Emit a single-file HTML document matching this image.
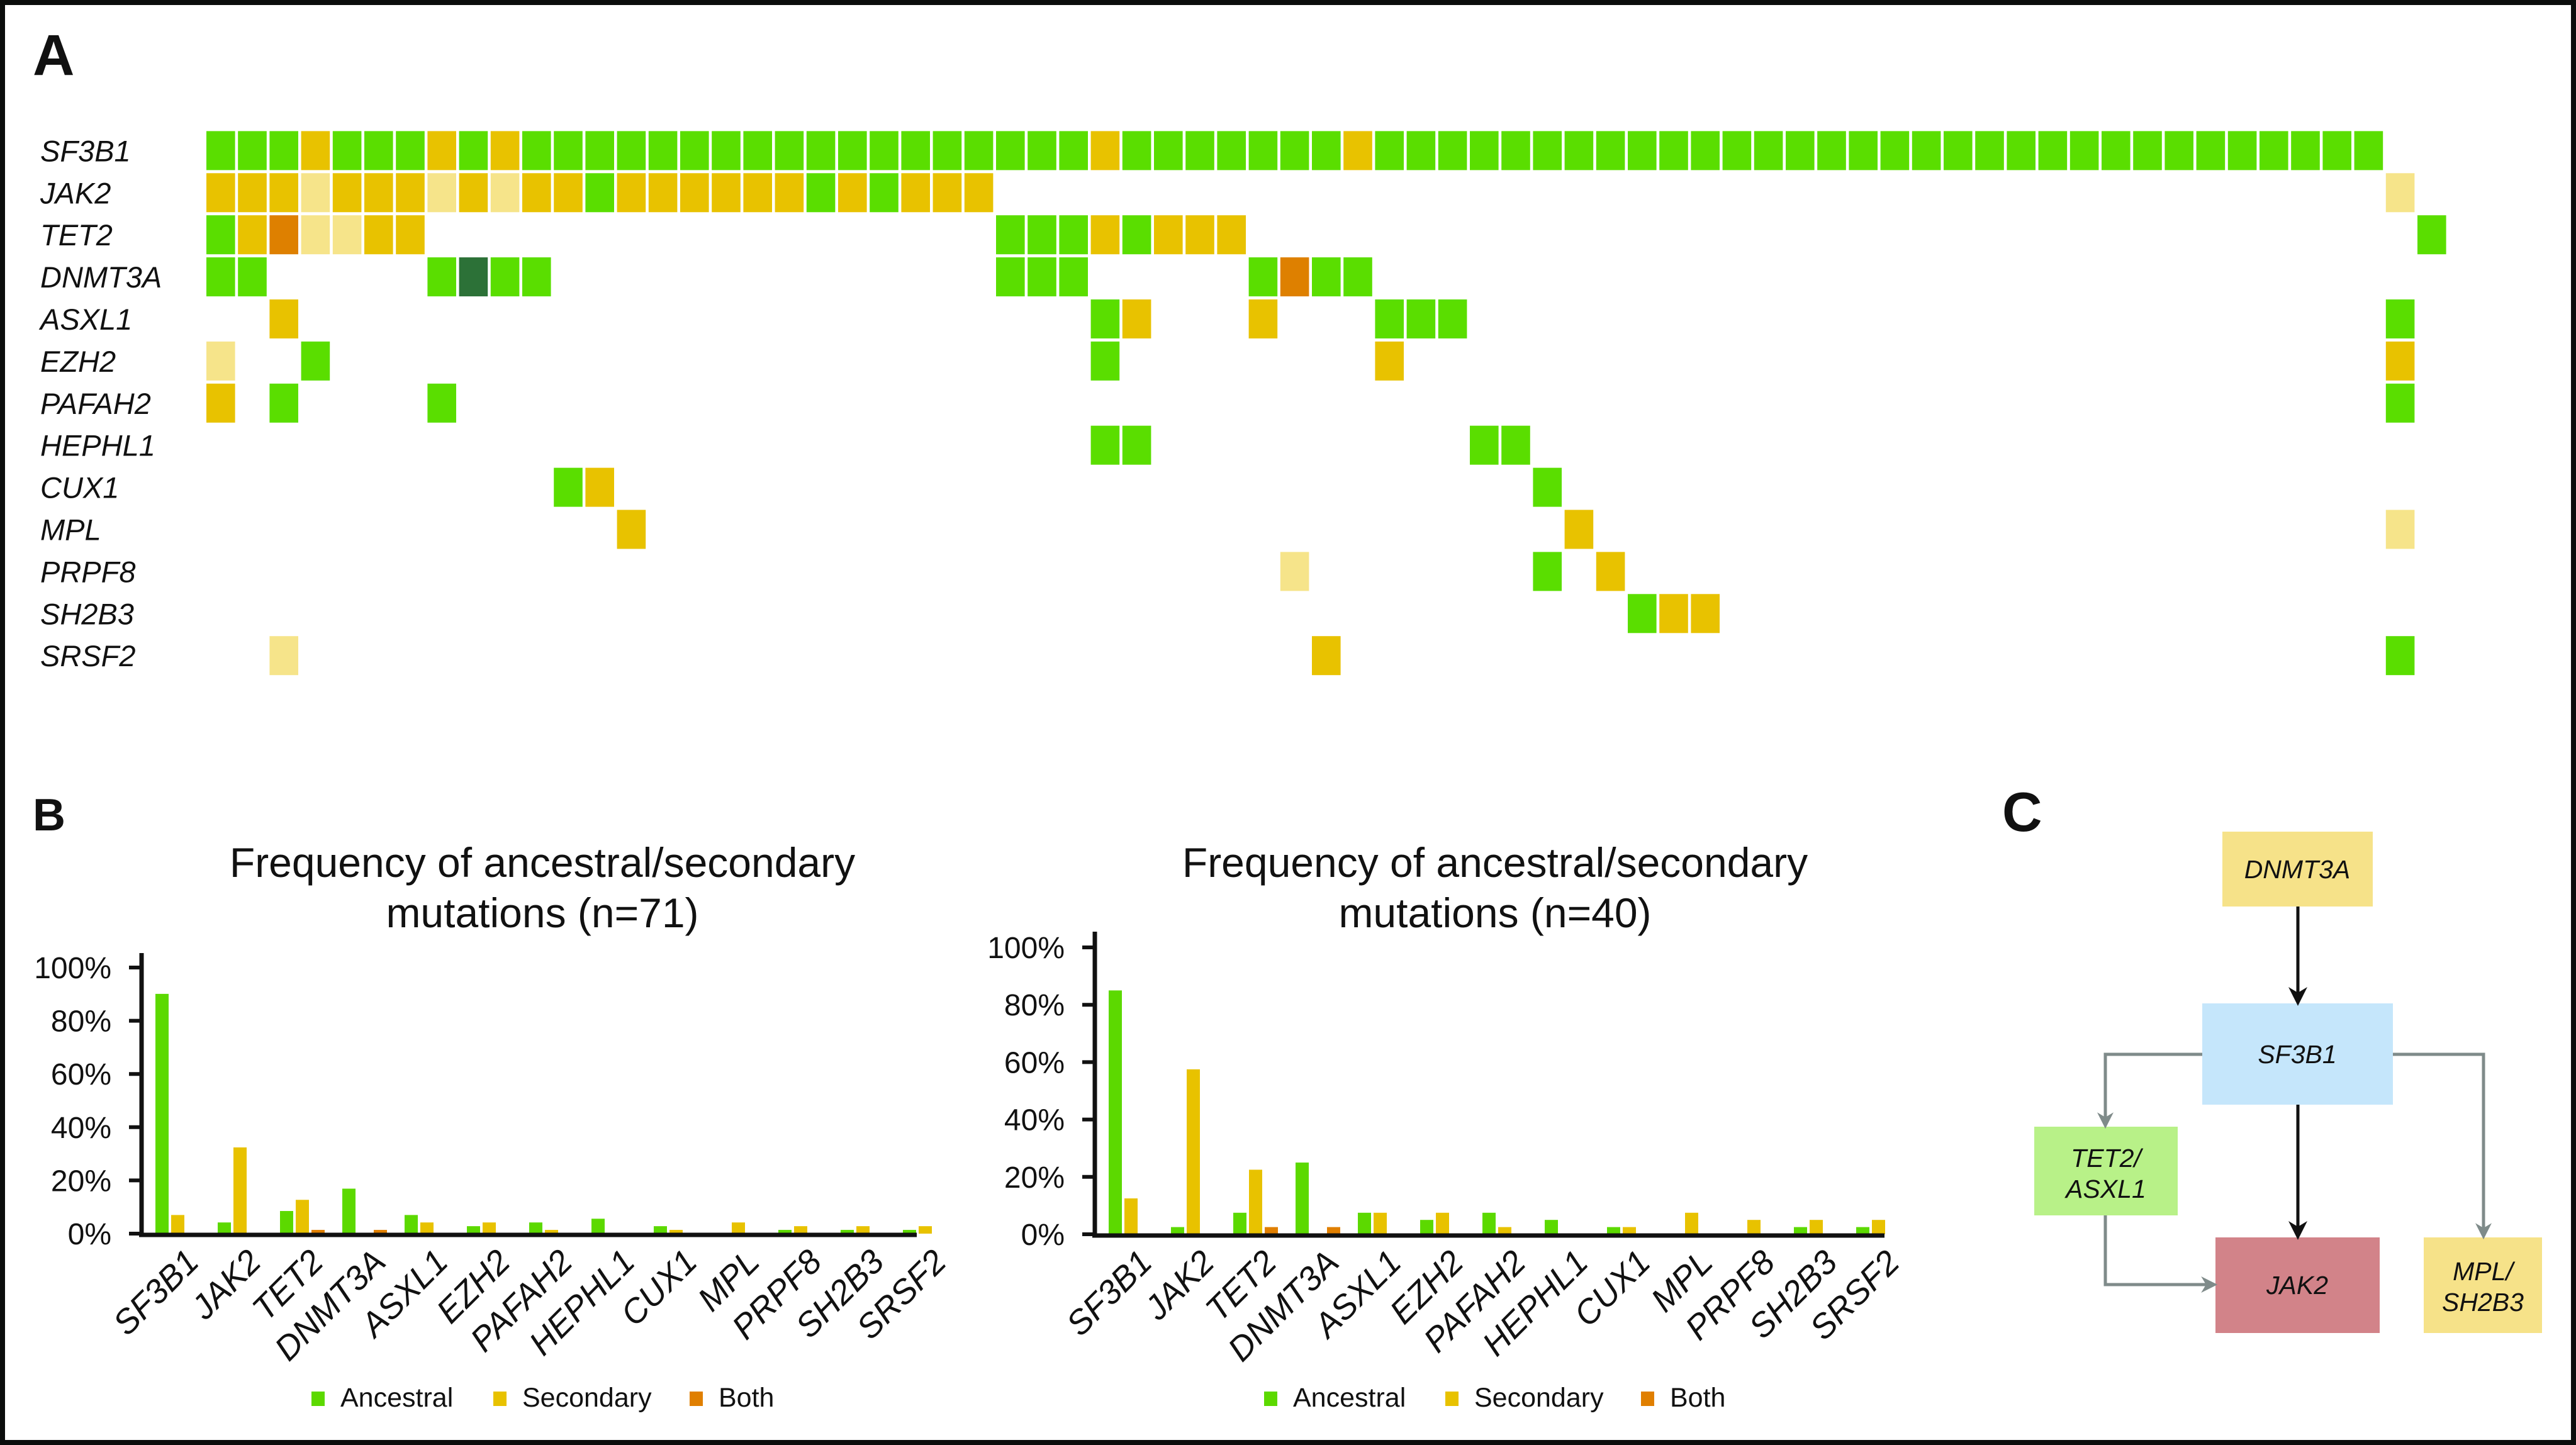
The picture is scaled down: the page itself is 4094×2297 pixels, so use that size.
<!DOCTYPE html>
<html><head><meta charset="utf-8">
<style>
html,body{margin:0;padding:0;background:#fff;}
svg{display:block;font-family:"Liberation Sans",sans-serif;}
</style></head>
<body>
<svg id="fig" width="4094" height="2297" viewBox="0 0 4094 2297" xmlns="http://www.w3.org/2000/svg">
<rect x="4" y="4" width="4086" height="2289" fill="#fff" stroke="#0b0d0c" stroke-width="8"/>
<text x="52" y="119" font-size="92" font-weight="bold" fill="#111">A</text>
<text x="52" y="1320" font-size="72" font-weight="bold" fill="#111">B</text>
<text x="3182" y="1321" font-size="88" font-weight="bold" fill="#111">C</text>
<g id="heat"></g>
<g id="chartL"></g>
<g id="chartR"></g>
<g id="diag">
  <defs>
    <marker id="ag" viewBox="0 0 10 10" refX="8" refY="5" markerWidth="26" markerHeight="26" orient="auto" markerUnits="userSpaceOnUse"><path d="M0,0 L10,5 L0,10 L3,5 z" fill="#7f8b8a"/></marker>
    <marker id="ab2" viewBox="0 0 10 10" refX="8" refY="5" markerWidth="30" markerHeight="30" orient="auto" markerUnits="userSpaceOnUse"><path d="M0,0 L10,5 L0,10 L3,5 z" fill="#111"/></marker>
  </defs>
  <rect x="3532" y="1322" width="239" height="119" fill="#f6e289"/>
  <text x="3651" y="1396" font-size="41" font-style="italic" text-anchor="middle" fill="#111">DNMT3A</text>
  <rect x="3500" y="1595" width="303" height="161" fill="#c5e6fb"/>
  <text x="3651" y="1690" font-size="41" font-style="italic" text-anchor="middle" fill="#111">SF3B1</text>
  <rect x="3233" y="1791" width="228" height="141" fill="#b8f188"/>
  <text x="3347" y="1855" font-size="41" font-style="italic" text-anchor="middle" fill="#111">TET2/</text>
  <text x="3347" y="1904" font-size="41" font-style="italic" text-anchor="middle" fill="#111">ASXL1</text>
  <rect x="3521" y="1967" width="261" height="152" fill="#d28389"/>
  <text x="3651" y="2057" font-size="41" font-style="italic" text-anchor="middle" fill="#111">JAK2</text>
  <rect x="3852" y="1967" width="188" height="152" fill="#f6e289"/>
  <text x="3946" y="2035" font-size="41" font-style="italic" text-anchor="middle" fill="#111">MPL/</text>
  <text x="3946" y="2084" font-size="41" font-style="italic" text-anchor="middle" fill="#111">SH2B3</text>
  <line x1="3652" y1="1441" x2="3652" y2="1593" stroke="#111" stroke-width="5" marker-end="url(#ab2)"/>
  <line x1="3652" y1="1756" x2="3652" y2="1965" stroke="#111" stroke-width="5" marker-end="url(#ab2)"/>
  <polyline points="3500,1676 3346,1676 3346,1789" fill="none" stroke="#7f8b8a" stroke-width="5" marker-end="url(#ag)"/>
  <polyline points="3803,1676 3947,1676 3947,1965" fill="none" stroke="#7f8b8a" stroke-width="5" marker-end="url(#ag)"/>
  <polyline points="3346,1932 3346,2042 3519,2042" fill="none" stroke="#7f8b8a" stroke-width="5" marker-end="url(#ag)"/>
</g>
</svg>
<script>
// ---------- Heatmap data ----------
const heatGenes = ["SF3B1","JAK2","TET2","DNMT3A","ASXL1","EZH2","PAFAH2","HEPHL1","CUX1","MPL","PRPF8","SH2B3","SRSF2"];
const rowSF3B1 = "GGGYGGGYGY"+"GGGGGGGGGG"+"GGGGGGGGYG"+"GGGGGGYGGG"+"GGGGGGGGGG"+"GGGGGGGGGG"+"GGGGGGGGG."+".";
const rowJAK2  = "YYYLYYYLYL"+"YYGYYYYYYG"+"YGYYY....."+".........."+".........."+".........."+".........L"+".";
const rowTET2  = "GYOLLYY..."+".........."+".....GGGYG"+"YYY......."+".........."+".........."+".........."+"G";
const rowDNMT3A= "GG.....GDG"+"G........."+".....GGG.."+"...GOGG..."+".........."+".........."+".........."+".";
const rowASXL1 = [[2,"Y"],[28,"G"],[29,"Y"],[33,"Y"],[37,"G"],[38,"G"],[39,"G"],[69,"G"]];
const rowEZH2  = [[0,"L"],[3,"G"],[28,"G"],[37,"Y"],[69,"Y"]];
const rowPAFAH2= [[0,"Y"],[2,"G"],[7,"G"],[69,"G"]];
const rowHEPHL1= [[28,"G"],[29,"G"],[40,"G"],[41,"G"]];
const rowCUX1  = [[11,"G"],[12,"Y"],[42,"G"]];
const rowMPL   = [[13,"Y"],[43,"Y"],[69,"L"]];
const rowPRPF8 = [[34,"L"],[42,"G"],[44,"Y"]];
const rowSH2B3 = [[45,"G"],[46,"Y"],[47,"Y"]];
const rowSRSF2 = [[2,"L"],[35,"Y"],[69,"G"]];

// ---------- Bar chart data ----------
const barGenes = ["SF3B1","JAK2","TET2","DNMT3A","ASXL1","EZH2","PAFAH2","HEPHL1","CUX1","MPL","PRPF8","SH2B3","SRSF2"];
const ancestral71 = [90.1,4.2,8.5,16.9,7.0,2.8,4.2,5.6,2.8,0,1.4,1.4,1.4];
const secondary71 = [7.0,32.4,12.7,0,4.2,4.2,1.4,0,1.4,4.2,2.8,2.8,2.8];
const both71      = [0,0,1.4,1.4,0,0,0,0,0,0,0,0,0];
const ancestral40 = [85,2.5,7.5,25,7.5,5,7.5,5,2.5,0,0,2.5,2.5];
const secondary40 = [12.5,57.5,22.5,0,7.5,7.5,2.5,0,2.5,7.5,5,5,5];
const both40      = [0,0,2.5,2.5,0,0,0,0,0,0,0,0,0];
const yTicks = [0,20,40,60,80,100];
const yTickLabels = ["0%","20%","40%","60%","80%","100%"];
const legendLabels = ["Ancestral","Secondary","Both"];

const NS = "http://www.w3.org/2000/svg";
const COL = {G:"#5ade00",Y:"#e8c200",L:"#f6e48a",O:"#de8000",D:"#2c7137"};
const BAR = ["#5cd900","#e8c200","#e07f00"];
function mk(tag, attrs, parent){
  const e=document.createElementNS(NS,tag);
  for(const k in attrs) e.setAttribute(k,attrs[k]);
  parent.appendChild(e); return e;
}

// ---------- Heatmap ----------
const heat=document.getElementById("heat");
const hx = c => 328 + c*50.2;
const hy = r => 208.4 + r*66.9;
function rowCells(r){
  const g=heatGenes[r];
  const src={SF3B1:rowSF3B1,JAK2:rowJAK2,TET2:rowTET2,DNMT3A:rowDNMT3A,ASXL1:rowASXL1,EZH2:rowEZH2,PAFAH2:rowPAFAH2,HEPHL1:rowHEPHL1,CUX1:rowCUX1,MPL:rowMPL,PRPF8:rowPRPF8,SH2B3:rowSH2B3,SRSF2:rowSRSF2}[g];
  if(typeof src==="string"){const out=[];for(let i=0;i<src.length;i++) if(src[i]!==".") out.push([i,src[i]]);return out;}
  return src;
}
heatGenes.forEach((g,r)=>{
  const t=mk("text",{x:64,y:hy(r)+48,"font-size":47,"font-style":"italic",fill:"#111"},heat);
  
  
  t.textContent=g;
  rowCells(r).forEach(([c,code])=>{
    const rc=mk("rect",{x:hx(c),y:hy(r),width:45.6,height:62,fill:COL[code]},heat);
    
    
  });
});

// ---------- Bar charts ----------
function drawChart(gid, cfg, A, S, B, title2){
  const g=document.getElementById(gid);
  const y = v => cfg.y0 - v*cfg.k;
  const gx = i => cfg.bx + i*99;
  const t1=mk("text",{x:cfg.tc,y:1394,"font-size":66,"text-anchor":"middle",fill:"#111"},g);
  
  
  t1.textContent="Frequency of ancestral/secondary";
  const t2=mk("text",{x:cfg.tc,y:1474,"font-size":66,"text-anchor":"middle",fill:"#111"},g);
  
  
  t2.textContent=title2;
  const series=[A,S,B];
  series.forEach((arr,s)=>{
    arr.forEach((v,i)=>{
      if(v<=0) return;
      const r=mk("rect",{x:gx(i)+s*25,y:y(v),width:21,height:cfg.y0-y(v),fill:BAR[s]},g);
      
      
    });
  });
  const ya=mk("line",{x1:cfg.ax,y1:cfg.top,x2:cfg.ax,y2:cfg.y0+5,stroke:"#111","stroke-width":7},g);
  
  
  const xa=mk("line",{x1:cfg.ax-4,y1:cfg.y0+2,x2:cfg.xend,y2:cfg.y0+2,stroke:"#111","stroke-width":7},g);
  
  
  yTicks.forEach((v,i)=>{
    const tk=mk("line",{x1:cfg.ax-20,y1:y(v),x2:cfg.ax,y2:y(v),stroke:"#111","stroke-width":6},g);
    
    
    const tl=mk("text",{x:cfg.ax-48,y:y(v)+17,"font-size":48,"text-anchor":"end",fill:"#111"},g);
    
    
    tl.textContent=yTickLabels[i];
  });
  barGenes.forEach((name,i)=>{
    const cx=gx(i)+72, cy=cfg.y0+48;
    const xl=mk("text",{x:cx,y:cy,"font-size":54,"font-style":"italic","text-anchor":"end",fill:"#111",transform:`rotate(-45 ${cx} ${cy})`},g);
    
    
    xl.textContent=name;
  });
  legendLabels.forEach((lab,s)=>{
    const lx=cfg.lx[s];
    const sq=mk("rect",{x:lx,y:2212,width:21,height:23,fill:BAR[s]},g);
    
    
    const lt=mk("text",{x:lx+46,y:2236,"font-size":43,fill:"#111"},g);
    
    
    lt.textContent=lab;
  });
}
drawChart("chartL",{y0:1961,k:4.23,bx:247,ax:225,top:1515,xend:1457,tc:862,lx:[495,784,1096]},ancestral71,secondary71,both71,"mutations (n=71)");
drawChart("chartR",{y0:1962,k:4.56,bx:1762,ax:1740,top:1481,xend:2995,tc:2376,lx:[2009,2297,2608]},ancestral40,secondary40,both40,"mutations (n=40)");
</script>
</body></html>
